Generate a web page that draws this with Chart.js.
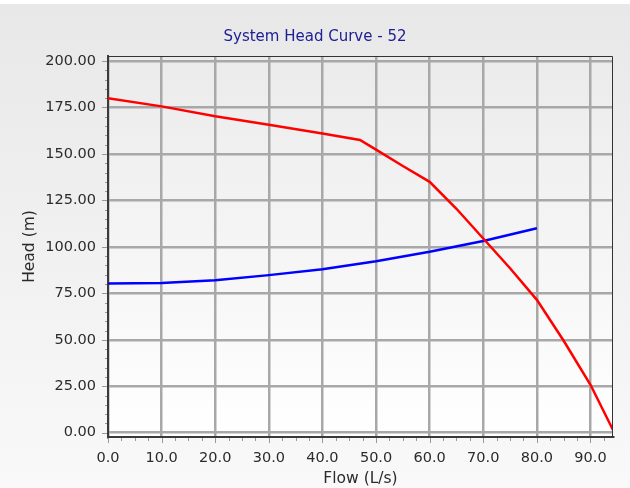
<!DOCTYPE html>
<html>
<head>
<meta charset="utf-8">
<script src="https://cdn.jsdelivr.net/npm/chart.js@4.4.0/dist/chart.umd.min.js"></script>
<style>
  html, body { margin: 0; padding: 0; background: #fff; }
</style>
</head>
<body>
<canvas id="container" width="630" height="488"></canvas>
<script>
// pump curve (red)
const pumpFlow = [0, 10, 20, 30, 40, 47, 50, 55, 60, 65, 70, 75, 80, 85, 90, 94.2];
const pumpHead = [180, 175.6, 170.3, 165.7, 161, 157.5, 152.3, 143.5, 135, 120.5, 104.5, 88.5, 71.5, 49.5, 25.8, 1.5];
// system curve (blue)
const sysFlow = [0, 10, 20, 30, 40, 50, 60, 70, 80];
const sysHead = [80.3, 80.5, 82, 84.8, 88, 92.3, 97.4, 103.2, 110];
// axis ticks
const xTicks = [0, 10, 20, 30, 40, 50, 60, 70, 80, 90];
const yTicks = [0, 25, 50, 75, 100, 125, 150, 175, 200];

const ctx = document.getElementById("container");
const font = "DejaVu Sans";

const toPoints = (xs, ys) => xs.map((x, i) => ({ x: x, y: ys[i] }));

const framePlugin = {
  id: "frame",
  beforeDraw(chart) {
    const { ctx, width, height, chartArea: a } = chart;
    ctx.save();
    ctx.fillStyle = "#ffffff";
    ctx.fillRect(0, 0, width, height);
    let g = ctx.createLinearGradient(0, 4, 0, height);
    g.addColorStop(0, "#e8e8e8");
    g.addColorStop(1, "#f9f9f9");
    ctx.fillStyle = g;
    ctx.fillRect(0, 4, width, height - 4);
    g = ctx.createLinearGradient(0, a.top, 0, a.bottom);
    g.addColorStop(0, "#ebebeb");
    g.addColorStop(1, "#ffffff");
    ctx.fillStyle = g;
    ctx.fillRect(a.left, a.top, a.right - a.left, a.bottom - a.top);
    ctx.restore();
  },
  afterDraw(chart) {
    const { ctx, chartArea: a, scales } = chart;
    ctx.save();
    // top and right edge
    ctx.strokeStyle = "#333333";
    ctx.lineWidth = 1;
    ctx.beginPath();
    ctx.moveTo(a.left, a.top + 0.5);
    ctx.lineTo(a.right - 0.5, a.top + 0.5);
    ctx.lineTo(a.right - 0.5, a.bottom);
    ctx.stroke();
    // small tick marks
    ctx.strokeStyle = "#999999";
    ctx.beginPath();
    for (let v = 0; v <= scales.x.max; v += 2.5) {
      const px = Math.round(scales.x.getPixelForValue(v)) + 0.5;
      const len = v % 10 === 0 ? 6 : 4;
      ctx.moveTo(px, a.bottom + 1);
      ctx.lineTo(px, a.bottom + len);
    }
    for (let v = 0; v <= 200; v += 5) {
      const py = Math.round(scales.y.getPixelForValue(v)) + 0.5;
      const len = v % 25 === 0 ? 6 : 3;
      ctx.moveTo(a.left - 1, py);
      ctx.lineTo(a.left - len, py);
    }
    ctx.stroke();
    ctx.restore();
  },
};

const myChart = new Chart(ctx, {
  type: "scatter",
  data: {
    datasets: [
      {
        label: "Pump",
        data: toPoints(pumpFlow, pumpHead),
        showLine: true,
        borderColor: "#ff0000",
        backgroundColor: "#ff0000",
        borderWidth: 2.5,
        pointRadius: 0,
      },
      {
        label: "System",
        data: toPoints(sysFlow, sysHead),
        showLine: true,
        borderColor: "#0000ff",
        backgroundColor: "#0000ff",
        borderWidth: 2.5,
        pointRadius: 0,
      },
    ],
  },
  options: {
    responsive: false,
    animation: false,
    devicePixelRatio: 1,
    layout: { padding: 0 },
    plugins: {
      legend: { display: false },
      tooltip: { enabled: false },
      title: {
        display: true,
        text: "System Head Curve - 52",
        color: "#202095",
        font: { family: font, size: 15, weight: "normal" },
        padding: { top: 28, bottom: 10 },
      },
    },
    scales: {
      x: {
        type: "linear",
        min: 0,
        max: 94.2,
        afterBuildTicks: (scale) => {
          scale.ticks = xTicks.map((v) => ({ value: v }));
        },
        afterFit: (scale) => {
          scale.height = 51;
        },
        grid: { color: "#a8a8a8", lineWidth: 2.5, drawTicks: false },
        border: { color: "#3a3a3a", width: 2 },
        ticks: {
          color: "#2b2b2b",
          padding: 13,
          maxRotation: 0,
          font: { family: font, size: 14.5 },
          callback: (v) => Number(v).toFixed(1),
        },
        title: {
          display: true,
          text: "Flow (L/s)",
          color: "#2b2b2b",
          font: { family: font, size: 15.5 },
          padding: { top: 0, bottom: 0 },
        },
      },
      y: {
        type: "linear",
        min: -2.3,
        max: 202.7,
        afterBuildTicks: (scale) => {
          scale.ticks = yTicks.map((v) => ({ value: v }));
        },
        afterFit: (scale) => {
          scale.width = 108;
        },
        grid: { color: "#a8a8a8", lineWidth: 2.5, drawTicks: false },
        border: { color: "#3a3a3a", width: 2 },
        ticks: {
          color: "#2b2b2b",
          padding: 12,
          font: { family: font, size: 14.5 },
          callback: (v) => Number(v).toFixed(2),
        },
        title: {
          display: true,
          text: "Head (m)",
          color: "#2b2b2b",
          font: { family: font, size: 15.5 },
          padding: { top: 21, bottom: 0 },
        },
      },
      // empty strip on the right, keeps the plot off the edge
      right: {
        type: "linear",
        position: "right",
        display: true,
        afterFit: (scale) => {
          scale.width = 17;
        },
        grid: { display: false },
        border: { display: false },
        ticks: { display: false },
      },
    },
  },
  plugins: [framePlugin],
});
</script>
</body>
</html>
